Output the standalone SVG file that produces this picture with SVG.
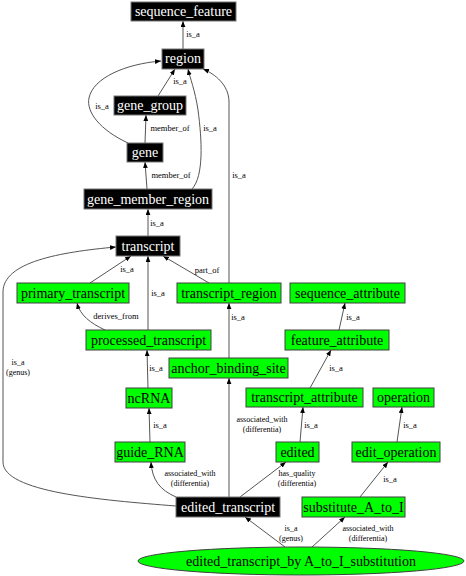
<svg xmlns="http://www.w3.org/2000/svg" width="466" height="576" viewBox="0 0 466 576">
<defs>
<marker id="arr" viewBox="0 0 10 8" refX="10" refY="4" markerWidth="6" markerHeight="5" orient="auto" markerUnits="userSpaceOnUse">
<path d="M0,0 L10,4 L0,8 Z" fill="#000"/>
</marker>
</defs>
<style>
.blk rect{fill:#000;stroke:#777;stroke-width:1}
.grn rect,.grn ellipse{fill:#00ff00;stroke:#404040;stroke-width:1}
.blk text{fill:#fff;font-family:"Liberation Serif",serif;font-size:14px;text-anchor:middle}
.grn text{fill:#000;font-family:"Liberation Serif",serif;font-size:14px;text-anchor:middle}
#edges path{fill:none;stroke:#555;stroke-width:1;marker-end:url(#arr)}
#edges text{font-family:"Liberation Serif",serif;font-size:8.5px;text-anchor:middle;fill:#000}
#edges text.s{font-size:8px}
</style>
<rect width="466" height="576" fill="#fff"/>
<g id="edges">
<path d="M183,49 L183,21"/>
<text x="193" y="37">is_a</text>
<path d="M158,96 L175,69"/>
<text x="180" y="84">is_a</text>
<path d="M128,143 C100,130 86,112 89,98 C93,78 125,64 161,61"/>
<text x="102" y="109">is_a</text>
<path d="M145,143 L146,115"/>
<text x="170" y="131">member_of</text>
<path d="M147,189 L145,162"/>
<text x="171" y="178">member_of</text>
<path d="M192,189 C204,176 202,140 198,110 C195,90 190,78 188,69"/>
<text x="210" y="131">is_a</text>
<path d="M229,283 L229,102 C229,85 215,74 203,69"/>
<text x="239" y="178">is_a</text>
<path d="M148,236 L148,209"/>
<text x="157" y="226">is_a</text>
<path d="M90,283 L131,256"/>
<text x="127" y="272">is_a</text>
<path d="M148,330 L148,256"/>
<text x="158" y="296">is_a</text>
<path d="M209,283 L163,256"/>
<text x="207" y="273">part_of</text>
<path d="M105,330 C90,323 80,315 77,303"/>
<text x="116" y="319">derives_from</text>
<path d="M229,358 L229,303"/>
<text x="238" y="320">is_a</text>
<path d="M148,388 L147,350"/>
<text x="156" y="371">is_a</text>
<path d="M339,330 L345,303"/>
<text x="353" y="320">is_a</text>
<path d="M310,388 L331,350"/>
<text x="336" y="371">is_a</text>
<path d="M150,442 L149,408"/>
<text x="160" y="428">is_a</text>
<path d="M300,442 L303,407"/>
<text x="311" y="428">is_a</text>
<path d="M397,442 L402,407"/>
<text x="410" y="428">is_a</text>
<path d="M229,497 L229,378"/>
<text class="s" x="262" y="422">associated_with</text>
<text class="s" x="262" y="431.5">(differentia)</text>
<path d="M176,497 C160,490 152,480 151,462"/>
<text class="s" x="190" y="476">associated_with</text>
<text class="s" x="190" y="485.5">(differentia)</text>
<path d="M240,497 L286,462"/>
<text class="s" x="297" y="476">has_quality</text>
<text class="s" x="297" y="485.5">(differentia)</text>
<path d="M176,506 C100,500 3,492 3,462 L3,292 C3,262 60,252 116,247"/>
<text class="s" x="18" y="365">is_a</text>
<text class="s" x="18" y="374.5">(genus)</text>
<path d="M360,497 L388,462"/>
<text x="390" y="482">is_a</text>
<path d="M285,547 L245,517"/>
<text class="s" x="291" y="531">is_a</text>
<text class="s" x="291" y="540.5">(genus)</text>
<path d="M312,547 L345,517"/>
<text class="s" x="368" y="531">associated_with</text>
<text class="s" x="368" y="540.5">(differentia)</text>
</g>
<g id="sequence_feature" class="blk"><rect x="131" y="2" width="105" height="19"/><text x="183.5" y="16">sequence_feature</text></g>
<g id="region" class="blk"><rect x="162" y="49" width="42" height="20"/><text x="183" y="63">region</text></g>
<g id="gene_group" class="blk"><rect x="114" y="96" width="72" height="19"/><text x="150" y="110">gene_group</text></g>
<g id="gene" class="blk"><rect x="127" y="143" width="36" height="19"/><text x="145" y="157">gene</text></g>
<g id="gene_member_region" class="blk"><rect x="84" y="189" width="128" height="20"/><text x="148" y="203.5">gene_member_region</text></g>
<g id="transcript" class="blk"><rect x="116" y="236" width="64" height="20"/><text x="148" y="250.5">transcript</text></g>
<g id="primary_transcript" class="grn"><rect x="17" y="283" width="112" height="20"/><text x="73" y="297.5">primary_transcript</text></g>
<g id="transcript_region" class="grn"><rect x="177" y="283" width="104" height="20"/><text x="229" y="297.5">transcript_region</text></g>
<g id="sequence_attribute" class="grn"><rect x="290" y="283" width="115" height="20"/><text x="347.5" y="297.5">sequence_attribute</text></g>
<g id="processed_transcript" class="grn"><rect x="86" y="330" width="125" height="20"/><text x="148.5" y="344.5">processed_transcript</text></g>
<g id="feature_attribute" class="grn"><rect x="285" y="330" width="104" height="20"/><text x="337" y="344.5">feature_attribute</text></g>
<g id="anchor_binding_site" class="grn"><rect x="169" y="358" width="119" height="20"/><text x="228.5" y="372.5">anchor_binding_site</text></g>
<g id="ncRNA" class="grn"><rect x="126" y="388" width="46" height="20"/><text x="149" y="402.5">ncRNA</text></g>
<g id="transcript_attribute" class="grn"><rect x="246" y="388" width="117" height="19"/><text x="304.5" y="402">transcript_attribute</text></g>
<g id="operation" class="grn"><rect x="373" y="388" width="61" height="19"/><text x="403.5" y="402">operation</text></g>
<g id="guide_RNA" class="grn"><rect x="115" y="442" width="70" height="20"/><text x="150" y="456.5">guide_RNA</text></g>
<g id="edited" class="grn"><rect x="276" y="442" width="43" height="20"/><text x="297.5" y="456.5">edited</text></g>
<g id="edit_operation" class="grn"><rect x="352" y="442" width="88" height="20"/><text x="396" y="456.5">edit_operation</text></g>
<g id="edited_transcript" class="blk"><rect x="176" y="497" width="104" height="20"/><text x="228" y="511.5">edited_transcript</text></g>
<g id="substitute_A_to_I" class="grn"><rect x="302" y="497" width="103" height="20"/><text x="353.5" y="511.5">substitute_A_to_I</text></g>
<g id="edited_transcript_by_A_to_I_substitution" class="grn"><ellipse cx="301" cy="561" rx="163" ry="14"/><text x="301" y="566">edited_transcript_by A_to_I_substitution</text></g>
</svg>
